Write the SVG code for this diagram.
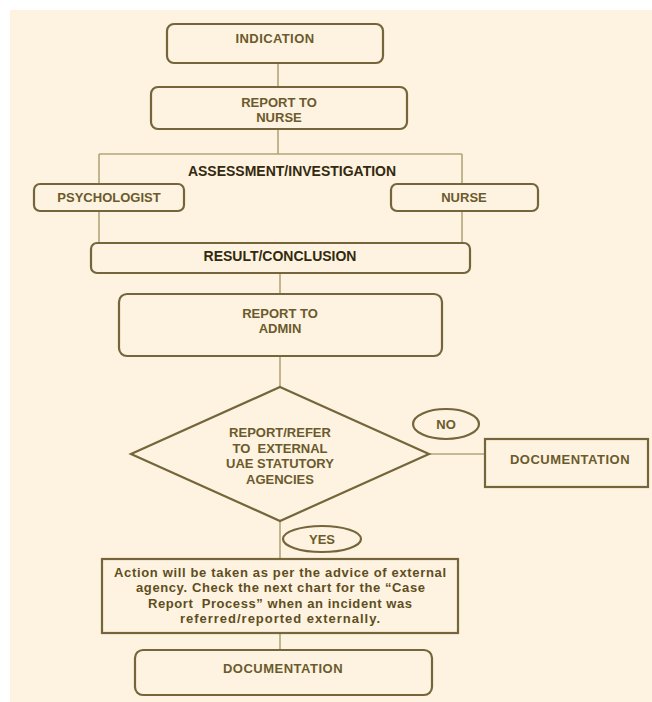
<svg xmlns="http://www.w3.org/2000/svg" width="652" height="702" viewBox="0 0 652 702">
<style>
.box{fill:#fdf3e0;stroke:#75653a;stroke-width:2.2}
.con{stroke:#b3a477;stroke-width:1.6;fill:none}
.t{font-family:"Liberation Sans",Arial,sans-serif;font-weight:700;font-size:13px;fill:#6b5a2c;text-anchor:middle}
.b{font-family:"Liberation Sans",Arial,sans-serif;font-weight:700;font-size:14px;fill:#33290f;text-anchor:middle}
.s{font-family:"Liberation Sans",Arial,sans-serif;font-weight:700;font-size:13px;fill:#5e4e22;text-anchor:middle}
</style>
<rect x="0" y="0" width="652" height="702" fill="#ffffff"/>
<rect x="10" y="10" width="642" height="692" fill="#fdf3e0"/>
<g id="connectors">
<line class="con" x1="278" y1="63" x2="278" y2="87"/>
<line class="con" x1="278" y1="129" x2="278" y2="154"/>
<line class="con" x1="99" y1="154" x2="462" y2="154"/>
<line class="con" x1="99" y1="154" x2="99" y2="243"/>
<line class="con" x1="462" y1="154" x2="462" y2="243"/>
<line class="con" x1="280" y1="273" x2="280" y2="294"/>
<line class="con" x1="280" y1="356" x2="280" y2="387"/>
<line class="con" x1="429" y1="454" x2="485" y2="454"/>
<line class="con" x1="280" y1="521" x2="280" y2="559"/>
<line class="con" x1="280" y1="633" x2="280" y2="650"/>
</g>
<g id="indication">
<rect class="box" x="167" y="24" width="216" height="39" rx="7"/>
<text class="t" x="275" y="43" letter-spacing="0.4">INDICATION</text>
</g>
<g id="report-nurse">
<rect class="box" x="151" y="87" width="256" height="42" rx="7"/>
<text class="t" x="279" y="106.5">REPORT TO</text>
<text class="t" x="279" y="121.5">NURSE</text>
</g>
<g id="assessment">
<text class="b" x="292" y="176">ASSESSMENT/INVESTIGATION</text>
</g>
<g id="psychologist">
<rect class="box" x="34" y="184" width="150" height="27" rx="6"/>
<text class="t" x="109" y="202">PSYCHOLOGIST</text>
</g>
<g id="nurse">
<rect class="box" x="391" y="184" width="147" height="27" rx="6"/>
<text class="t" x="464" y="202">NURSE</text>
</g>
<g id="result">
<rect class="box" x="91" y="243" width="379" height="30" rx="6"/>
<text class="b" x="280" y="261">RESULT/CONCLUSION</text>
</g>
<g id="report-admin">
<rect class="box" x="119" y="294" width="323" height="62" rx="8"/>
<text class="t" x="280" y="317.5">REPORT TO</text>
<text class="t" x="280" y="332.5">ADMIN</text>
</g>
<g id="decision">
<polygon class="box" points="280,387 429,454 280,521 131,454"/>
<text class="t" x="280" y="436.5">REPORT/REFER</text>
<text class="t" x="280" y="452.5" xml:space="preserve">TO  EXTERNAL</text>
<text class="t" x="280" y="468">UAE STATUTORY</text>
<text class="t" x="280" y="483.5">AGENCIES</text>
</g>
<g id="no-label">
<ellipse class="box" cx="446" cy="424" rx="33" ry="15"/>
<text class="t" x="446" y="428.5">NO</text>
</g>
<g id="documentation-right">
<rect class="box" x="485" y="439" width="163" height="48"/>
<text class="t" x="570" y="464" letter-spacing="0.5">DOCUMENTATION</text>
</g>
<g id="yes-label">
<ellipse class="box" cx="322" cy="539" rx="39" ry="13"/>
<text class="t" x="322" y="543.5">YES</text>
</g>
<g id="action">
<rect class="box" x="102" y="559" width="356" height="74"/>
<text class="s" x="280" y="576.5" textLength="332" lengthAdjust="spacing">Action will be taken as per the advice of external</text>
<text class="s" x="280.5" y="592" textLength="289" lengthAdjust="spacing">agency. Check the next chart for the “Case</text>
<text class="s" x="280" y="607.5" textLength="264" lengthAdjust="spacing" xml:space="preserve">Report  Process” when an incident was</text>
<text class="s" x="280" y="623" textLength="200" lengthAdjust="spacing">referred/reported externally.</text>
</g>
<g id="documentation-bottom">
<rect class="box" x="135" y="650" width="297" height="45" rx="8"/>
<text class="t" x="283" y="673" letter-spacing="0.5">DOCUMENTATION</text>
</g>
</svg>
